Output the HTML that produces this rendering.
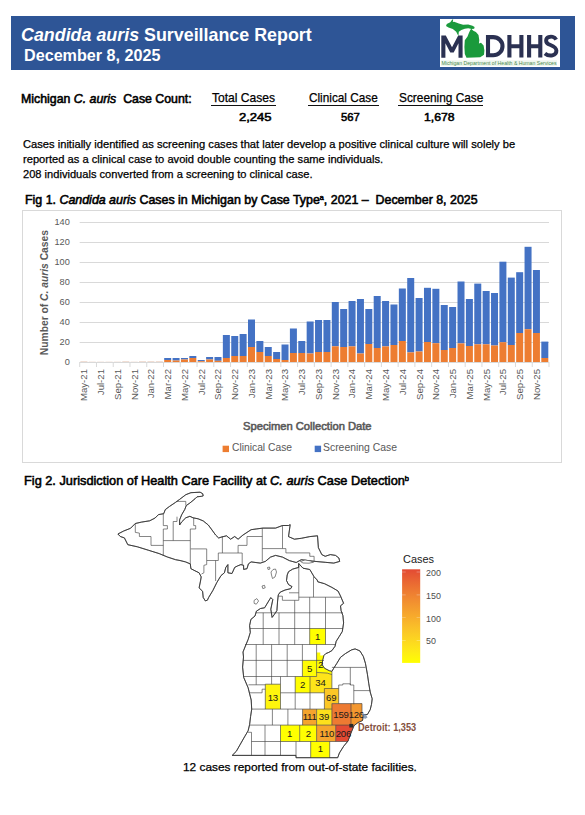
<!DOCTYPE html>
<html><head><meta charset="utf-8"><style>
html,body{margin:0;padding:0;background:#fff;width:585px;height:815px;overflow:hidden;position:relative;font-family:"Liberation Sans", sans-serif;}
</style></head><body>
<div style="position:absolute;left:11px;top:16px;width:564px;height:54px;background:#2e5596"></div>
<svg style="position:absolute;left:0;top:0" width="585" height="815">
<rect x="440" y="19" width="120" height="48" fill="#fff"/>
<g fill="none" stroke="#2b3152" stroke-width="4.1">
<path d="M488,37.1 H493.2 A9.3,9.1 0 0 1 493.2,55.3 H488 Z"/>
<path d="M509.4,35 V57.6 M521.4,35 V57.6 M509.4,46.3 H521.4"/>
<path d="M529.1,35 V57.6 M540.3,35 V57.6 M529.1,46.3 H540.3"/>
<path d="M556.2,39.6 C554.5,36.6 550.8,36.4 548.6,37.2 C545.4,38.4 545.2,42.6 548.6,44.2 C551.6,45.6 556.2,46.4 556.4,50.6 C556.6,55.6 549.4,57.2 544.9,53.4" stroke-width="3.9"/>
</g>
<polygon points="441.3,57.7 441.3,35.5 445.8,35.5 452,47.2 458.2,35.5 462.6,35.5 462.6,57.7 458.5,57.7 458.5,43.2 453.7,52.6 450.3,52.6 445.4,43.2 445.4,57.7" fill="#2b3152"/>
<path d="M446,26.1 L446.8,24 L450.3,22.3 L452.3,19.6 L453.2,19.5 L452.8,21.9 L454.1,21.8 L458.8,23.6 L463.1,24.8 L468.2,24.4 L472.5,25.7 L474.6,27 L474.2,28.7 L471.6,29.1 L468.2,28.3 L464.8,28.7 L461.4,30 L458.8,31.7 L458.4,36 L456.2,31.7 L452.8,29.1 L448.5,27.4 Z" fill="#1a9a3c"/>
<path d="M471.2,28.7 L473.3,30.8 L475.9,32.1 L478.5,35.1 L479.3,40.2 L478.9,43.6 L481,42.8 L483.6,45.4 L484.4,50.5 L484,54.8 L480.2,57.3 L466.5,57.7 L464.8,53.9 L464.4,47.1 L464.8,40.2 L467.4,36.8 L469.1,32.5 L470.3,30 Z" fill="#1a9a3c"/>
<rect x="441" y="60.3" width="116" height="5.8" fill="#eef6ee"/>
<text x="441.5" y="65.3" font-family="Liberation Sans" font-size="5.2" fill="#4a8a50" textLength="115" lengthAdjust="spacingAndGlyphs">Michigan Department of Health &amp; Human Services</text>
</svg>
<svg style="position:absolute;left:0;top:0" width="585" height="815">
<rect x="22.5" y="210.5" width="539" height="252" fill="none" stroke="#d9d9d9" stroke-width="1"/>
<line x1="79.7" y1="342.5" x2="549.0" y2="342.5" stroke="#d9d9d9" stroke-width="1"/>
<line x1="79.7" y1="322.5" x2="549.0" y2="322.5" stroke="#d9d9d9" stroke-width="1"/>
<line x1="79.7" y1="302.5" x2="549.0" y2="302.5" stroke="#d9d9d9" stroke-width="1"/>
<line x1="79.7" y1="282.5" x2="549.0" y2="282.5" stroke="#d9d9d9" stroke-width="1"/>
<line x1="79.7" y1="262.5" x2="549.0" y2="262.5" stroke="#d9d9d9" stroke-width="1"/>
<line x1="79.7" y1="242.5" x2="549.0" y2="242.5" stroke="#d9d9d9" stroke-width="1"/>
<line x1="79.7" y1="222.5" x2="549.0" y2="222.5" stroke="#d9d9d9" stroke-width="1"/>
<rect x="80.39" y="361.00" width="7.0" height="1" fill="#e8c8b8" opacity="0.6"/>
<rect x="88.77" y="361.00" width="7.0" height="1" fill="#e8c8b8" opacity="0.25"/>
<rect x="97.15" y="361.00" width="7.0" height="1" fill="#e8c8b8" opacity="0.25"/>
<rect x="105.53" y="361.00" width="7.0" height="1" fill="#e8c8b8" opacity="0.25"/>
<rect x="113.91" y="361.00" width="7.0" height="1" fill="#e8c8b8" opacity="0.25"/>
<rect x="122.29" y="361.00" width="7.0" height="1" fill="#e8c8b8" opacity="0.6"/>
<rect x="130.67" y="361.00" width="7.0" height="1" fill="#e8c8b8" opacity="0.25"/>
<rect x="139.05" y="361.00" width="7.0" height="1" fill="#e8c8b8" opacity="0.6"/>
<rect x="147.43" y="361.00" width="7.0" height="1" fill="#e8c8b8" opacity="0.6"/>
<rect x="155.81" y="361.00" width="7.0" height="1" fill="#e8c8b8" opacity="0.6"/>
<rect x="164.19" y="358.00" width="7.0" height="2.00" fill="#4472c4"/>
<rect x="164.19" y="360.00" width="7.0" height="2.00" fill="#ed7d31"/>
<rect x="172.57" y="358.00" width="7.0" height="2.50" fill="#4472c4"/>
<rect x="172.57" y="360.50" width="7.0" height="1.50" fill="#ed7d31"/>
<rect x="180.95" y="358.00" width="7.0" height="1.50" fill="#4472c4"/>
<rect x="180.95" y="359.50" width="7.0" height="2.50" fill="#ed7d31"/>
<rect x="189.33" y="356.00" width="7.0" height="2.00" fill="#4472c4"/>
<rect x="189.33" y="358.00" width="7.0" height="4.00" fill="#ed7d31"/>
<rect x="197.72" y="360.00" width="7.0" height="1.20" fill="#4472c4"/>
<rect x="197.72" y="361.20" width="7.0" height="0.80" fill="#ed7d31"/>
<rect x="206.10" y="357.00" width="7.0" height="2.50" fill="#4472c4"/>
<rect x="206.10" y="359.50" width="7.0" height="2.50" fill="#ed7d31"/>
<rect x="214.48" y="357.00" width="7.0" height="3.80" fill="#4472c4"/>
<rect x="214.48" y="360.80" width="7.0" height="1.20" fill="#ed7d31"/>
<rect x="222.86" y="335.00" width="7.0" height="23.00" fill="#4472c4"/>
<rect x="222.86" y="358.00" width="7.0" height="4.00" fill="#ed7d31"/>
<rect x="231.24" y="336.00" width="7.0" height="20.00" fill="#4472c4"/>
<rect x="231.24" y="356.00" width="7.0" height="6.00" fill="#ed7d31"/>
<rect x="239.62" y="334.00" width="7.0" height="22.00" fill="#4472c4"/>
<rect x="239.62" y="356.00" width="7.0" height="6.00" fill="#ed7d31"/>
<rect x="248.00" y="319.50" width="7.0" height="27.50" fill="#4472c4"/>
<rect x="248.00" y="347.00" width="7.0" height="15.00" fill="#ed7d31"/>
<rect x="256.38" y="341.00" width="7.0" height="11.00" fill="#4472c4"/>
<rect x="256.38" y="352.00" width="7.0" height="10.00" fill="#ed7d31"/>
<rect x="264.76" y="347.00" width="7.0" height="9.00" fill="#4472c4"/>
<rect x="264.76" y="356.00" width="7.0" height="6.00" fill="#ed7d31"/>
<rect x="273.14" y="352.00" width="7.0" height="7.00" fill="#4472c4"/>
<rect x="273.14" y="359.00" width="7.0" height="3.00" fill="#ed7d31"/>
<rect x="281.52" y="344.50" width="7.0" height="15.50" fill="#4472c4"/>
<rect x="281.52" y="360.00" width="7.0" height="2.00" fill="#ed7d31"/>
<rect x="289.90" y="328.50" width="7.0" height="24.50" fill="#4472c4"/>
<rect x="289.90" y="353.00" width="7.0" height="9.00" fill="#ed7d31"/>
<rect x="298.28" y="341.00" width="7.0" height="12.00" fill="#4472c4"/>
<rect x="298.28" y="353.00" width="7.0" height="9.00" fill="#ed7d31"/>
<rect x="306.66" y="321.50" width="7.0" height="32.00" fill="#4472c4"/>
<rect x="306.66" y="353.50" width="7.0" height="8.50" fill="#ed7d31"/>
<rect x="315.04" y="320.00" width="7.0" height="32.00" fill="#4472c4"/>
<rect x="315.04" y="352.00" width="7.0" height="10.00" fill="#ed7d31"/>
<rect x="323.42" y="320.00" width="7.0" height="32.00" fill="#4472c4"/>
<rect x="323.42" y="352.00" width="7.0" height="10.00" fill="#ed7d31"/>
<rect x="331.80" y="302.00" width="7.0" height="44.30" fill="#4472c4"/>
<rect x="331.80" y="346.30" width="7.0" height="15.70" fill="#ed7d31"/>
<rect x="340.18" y="309.00" width="7.0" height="38.00" fill="#4472c4"/>
<rect x="340.18" y="347.00" width="7.0" height="15.00" fill="#ed7d31"/>
<rect x="348.56" y="301.00" width="7.0" height="45.40" fill="#4472c4"/>
<rect x="348.56" y="346.40" width="7.0" height="15.60" fill="#ed7d31"/>
<rect x="356.94" y="299.00" width="7.0" height="54.50" fill="#4472c4"/>
<rect x="356.94" y="353.50" width="7.0" height="8.50" fill="#ed7d31"/>
<rect x="365.32" y="309.00" width="7.0" height="35.00" fill="#4472c4"/>
<rect x="365.32" y="344.00" width="7.0" height="18.00" fill="#ed7d31"/>
<rect x="373.70" y="296.00" width="7.0" height="52.00" fill="#4472c4"/>
<rect x="373.70" y="348.00" width="7.0" height="14.00" fill="#ed7d31"/>
<rect x="382.08" y="301.00" width="7.0" height="45.40" fill="#4472c4"/>
<rect x="382.08" y="346.40" width="7.0" height="15.60" fill="#ed7d31"/>
<rect x="390.46" y="304.50" width="7.0" height="40.50" fill="#4472c4"/>
<rect x="390.46" y="345.00" width="7.0" height="17.00" fill="#ed7d31"/>
<rect x="398.84" y="288.50" width="7.0" height="52.50" fill="#4472c4"/>
<rect x="398.84" y="341.00" width="7.0" height="21.00" fill="#ed7d31"/>
<rect x="407.22" y="278.00" width="7.0" height="74.40" fill="#4472c4"/>
<rect x="407.22" y="352.40" width="7.0" height="9.60" fill="#ed7d31"/>
<rect x="415.60" y="298.00" width="7.0" height="53.50" fill="#4472c4"/>
<rect x="415.60" y="351.50" width="7.0" height="10.50" fill="#ed7d31"/>
<rect x="423.98" y="287.80" width="7.0" height="54.20" fill="#4472c4"/>
<rect x="423.98" y="342.00" width="7.0" height="20.00" fill="#ed7d31"/>
<rect x="432.37" y="288.80" width="7.0" height="54.40" fill="#4472c4"/>
<rect x="432.37" y="343.20" width="7.0" height="18.80" fill="#ed7d31"/>
<rect x="440.75" y="305.00" width="7.0" height="45.00" fill="#4472c4"/>
<rect x="440.75" y="350.00" width="7.0" height="12.00" fill="#ed7d31"/>
<rect x="449.13" y="307.00" width="7.0" height="41.00" fill="#4472c4"/>
<rect x="449.13" y="348.00" width="7.0" height="14.00" fill="#ed7d31"/>
<rect x="457.51" y="281.50" width="7.0" height="61.90" fill="#4472c4"/>
<rect x="457.51" y="343.40" width="7.0" height="18.60" fill="#ed7d31"/>
<rect x="465.89" y="299.00" width="7.0" height="47.00" fill="#4472c4"/>
<rect x="465.89" y="346.00" width="7.0" height="16.00" fill="#ed7d31"/>
<rect x="474.27" y="283.60" width="7.0" height="60.70" fill="#4472c4"/>
<rect x="474.27" y="344.30" width="7.0" height="17.70" fill="#ed7d31"/>
<rect x="482.65" y="291.00" width="7.0" height="53.30" fill="#4472c4"/>
<rect x="482.65" y="344.30" width="7.0" height="17.70" fill="#ed7d31"/>
<rect x="491.03" y="293.00" width="7.0" height="52.50" fill="#4472c4"/>
<rect x="491.03" y="345.50" width="7.0" height="16.50" fill="#ed7d31"/>
<rect x="499.41" y="261.70" width="7.0" height="80.50" fill="#4472c4"/>
<rect x="499.41" y="342.20" width="7.0" height="19.80" fill="#ed7d31"/>
<rect x="507.79" y="277.60" width="7.0" height="67.40" fill="#4472c4"/>
<rect x="507.79" y="345.00" width="7.0" height="17.00" fill="#ed7d31"/>
<rect x="516.17" y="272.20" width="7.0" height="60.80" fill="#4472c4"/>
<rect x="516.17" y="333.00" width="7.0" height="29.00" fill="#ed7d31"/>
<rect x="524.55" y="246.80" width="7.0" height="82.40" fill="#4472c4"/>
<rect x="524.55" y="329.20" width="7.0" height="32.80" fill="#ed7d31"/>
<rect x="532.93" y="270.00" width="7.0" height="63.00" fill="#4472c4"/>
<rect x="532.93" y="333.00" width="7.0" height="29.00" fill="#ed7d31"/>
<rect x="541.31" y="341.60" width="7.0" height="16.40" fill="#4472c4"/>
<rect x="541.31" y="358.00" width="7.0" height="4.00" fill="#ed7d31"/>
<line x1="79.7" y1="362.5" x2="549.0" y2="362.5" stroke="#d9d9d9" stroke-width="1"/>
<line x1="79.70" y1="362.0" x2="79.70" y2="367.0" stroke="#d9d9d9" stroke-width="1"/>
<line x1="96.46" y1="362.0" x2="96.46" y2="367.0" stroke="#d9d9d9" stroke-width="1"/>
<line x1="113.22" y1="362.0" x2="113.22" y2="367.0" stroke="#d9d9d9" stroke-width="1"/>
<line x1="129.98" y1="362.0" x2="129.98" y2="367.0" stroke="#d9d9d9" stroke-width="1"/>
<line x1="146.74" y1="362.0" x2="146.74" y2="367.0" stroke="#d9d9d9" stroke-width="1"/>
<line x1="163.50" y1="362.0" x2="163.50" y2="367.0" stroke="#d9d9d9" stroke-width="1"/>
<line x1="180.26" y1="362.0" x2="180.26" y2="367.0" stroke="#d9d9d9" stroke-width="1"/>
<line x1="197.03" y1="362.0" x2="197.03" y2="367.0" stroke="#d9d9d9" stroke-width="1"/>
<line x1="213.79" y1="362.0" x2="213.79" y2="367.0" stroke="#d9d9d9" stroke-width="1"/>
<line x1="230.55" y1="362.0" x2="230.55" y2="367.0" stroke="#d9d9d9" stroke-width="1"/>
<line x1="247.31" y1="362.0" x2="247.31" y2="367.0" stroke="#d9d9d9" stroke-width="1"/>
<line x1="264.07" y1="362.0" x2="264.07" y2="367.0" stroke="#d9d9d9" stroke-width="1"/>
<line x1="280.83" y1="362.0" x2="280.83" y2="367.0" stroke="#d9d9d9" stroke-width="1"/>
<line x1="297.59" y1="362.0" x2="297.59" y2="367.0" stroke="#d9d9d9" stroke-width="1"/>
<line x1="314.35" y1="362.0" x2="314.35" y2="367.0" stroke="#d9d9d9" stroke-width="1"/>
<line x1="331.11" y1="362.0" x2="331.11" y2="367.0" stroke="#d9d9d9" stroke-width="1"/>
<line x1="347.87" y1="362.0" x2="347.87" y2="367.0" stroke="#d9d9d9" stroke-width="1"/>
<line x1="364.63" y1="362.0" x2="364.63" y2="367.0" stroke="#d9d9d9" stroke-width="1"/>
<line x1="381.39" y1="362.0" x2="381.39" y2="367.0" stroke="#d9d9d9" stroke-width="1"/>
<line x1="398.15" y1="362.0" x2="398.15" y2="367.0" stroke="#d9d9d9" stroke-width="1"/>
<line x1="414.91" y1="362.0" x2="414.91" y2="367.0" stroke="#d9d9d9" stroke-width="1"/>
<line x1="431.68" y1="362.0" x2="431.68" y2="367.0" stroke="#d9d9d9" stroke-width="1"/>
<line x1="448.44" y1="362.0" x2="448.44" y2="367.0" stroke="#d9d9d9" stroke-width="1"/>
<line x1="465.20" y1="362.0" x2="465.20" y2="367.0" stroke="#d9d9d9" stroke-width="1"/>
<line x1="481.96" y1="362.0" x2="481.96" y2="367.0" stroke="#d9d9d9" stroke-width="1"/>
<line x1="498.72" y1="362.0" x2="498.72" y2="367.0" stroke="#d9d9d9" stroke-width="1"/>
<line x1="515.48" y1="362.0" x2="515.48" y2="367.0" stroke="#d9d9d9" stroke-width="1"/>
<line x1="532.24" y1="362.0" x2="532.24" y2="367.0" stroke="#d9d9d9" stroke-width="1"/>
<line x1="549.00" y1="362.0" x2="549.00" y2="367.0" stroke="#d9d9d9" stroke-width="1"/>
<text x="69.8" y="365.3" text-anchor="end" font-family="Liberation Sans" font-size="9.2" fill="#595959">0</text>
<text x="69.8" y="345.3" text-anchor="end" font-family="Liberation Sans" font-size="9.2" fill="#595959">20</text>
<text x="69.8" y="325.3" text-anchor="end" font-family="Liberation Sans" font-size="9.2" fill="#595959">40</text>
<text x="69.8" y="305.3" text-anchor="end" font-family="Liberation Sans" font-size="9.2" fill="#595959">60</text>
<text x="69.8" y="285.3" text-anchor="end" font-family="Liberation Sans" font-size="9.2" fill="#595959">80</text>
<text x="69.8" y="265.3" text-anchor="end" font-family="Liberation Sans" font-size="9.2" fill="#595959">100</text>
<text x="69.8" y="245.3" text-anchor="end" font-family="Liberation Sans" font-size="9.2" fill="#595959">120</text>
<text x="69.8" y="225.3" text-anchor="end" font-family="Liberation Sans" font-size="9.2" fill="#595959">140</text>
<text transform="translate(87.29,369) rotate(-90)" text-anchor="end" font-family="Liberation Sans" font-size="9.6" fill="#595959">May-21</text>
<text transform="translate(104.05,369) rotate(-90)" text-anchor="end" font-family="Liberation Sans" font-size="9.6" fill="#595959">Jul-21</text>
<text transform="translate(120.81,369) rotate(-90)" text-anchor="end" font-family="Liberation Sans" font-size="9.6" fill="#595959">Sep-21</text>
<text transform="translate(137.57,369) rotate(-90)" text-anchor="end" font-family="Liberation Sans" font-size="9.6" fill="#595959">Nov-21</text>
<text transform="translate(154.33,369) rotate(-90)" text-anchor="end" font-family="Liberation Sans" font-size="9.6" fill="#595959">Jan-22</text>
<text transform="translate(171.09,369) rotate(-90)" text-anchor="end" font-family="Liberation Sans" font-size="9.6" fill="#595959">Mar-22</text>
<text transform="translate(187.85,369) rotate(-90)" text-anchor="end" font-family="Liberation Sans" font-size="9.6" fill="#595959">May-22</text>
<text transform="translate(204.62,369) rotate(-90)" text-anchor="end" font-family="Liberation Sans" font-size="9.6" fill="#595959">Jul-22</text>
<text transform="translate(221.38,369) rotate(-90)" text-anchor="end" font-family="Liberation Sans" font-size="9.6" fill="#595959">Sep-22</text>
<text transform="translate(238.14,369) rotate(-90)" text-anchor="end" font-family="Liberation Sans" font-size="9.6" fill="#595959">Nov-22</text>
<text transform="translate(254.90,369) rotate(-90)" text-anchor="end" font-family="Liberation Sans" font-size="9.6" fill="#595959">Jan-23</text>
<text transform="translate(271.66,369) rotate(-90)" text-anchor="end" font-family="Liberation Sans" font-size="9.6" fill="#595959">Mar-23</text>
<text transform="translate(288.42,369) rotate(-90)" text-anchor="end" font-family="Liberation Sans" font-size="9.6" fill="#595959">May-23</text>
<text transform="translate(305.18,369) rotate(-90)" text-anchor="end" font-family="Liberation Sans" font-size="9.6" fill="#595959">Jul-23</text>
<text transform="translate(321.94,369) rotate(-90)" text-anchor="end" font-family="Liberation Sans" font-size="9.6" fill="#595959">Sep-23</text>
<text transform="translate(338.70,369) rotate(-90)" text-anchor="end" font-family="Liberation Sans" font-size="9.6" fill="#595959">Nov-23</text>
<text transform="translate(355.46,369) rotate(-90)" text-anchor="end" font-family="Liberation Sans" font-size="9.6" fill="#595959">Jan-24</text>
<text transform="translate(372.22,369) rotate(-90)" text-anchor="end" font-family="Liberation Sans" font-size="9.6" fill="#595959">Mar-24</text>
<text transform="translate(388.98,369) rotate(-90)" text-anchor="end" font-family="Liberation Sans" font-size="9.6" fill="#595959">May-24</text>
<text transform="translate(405.74,369) rotate(-90)" text-anchor="end" font-family="Liberation Sans" font-size="9.6" fill="#595959">Jul-24</text>
<text transform="translate(422.50,369) rotate(-90)" text-anchor="end" font-family="Liberation Sans" font-size="9.6" fill="#595959">Sep-24</text>
<text transform="translate(439.27,369) rotate(-90)" text-anchor="end" font-family="Liberation Sans" font-size="9.6" fill="#595959">Nov-24</text>
<text transform="translate(456.03,369) rotate(-90)" text-anchor="end" font-family="Liberation Sans" font-size="9.6" fill="#595959">Jan-25</text>
<text transform="translate(472.79,369) rotate(-90)" text-anchor="end" font-family="Liberation Sans" font-size="9.6" fill="#595959">Mar-25</text>
<text transform="translate(489.55,369) rotate(-90)" text-anchor="end" font-family="Liberation Sans" font-size="9.6" fill="#595959">May-25</text>
<text transform="translate(506.31,369) rotate(-90)" text-anchor="end" font-family="Liberation Sans" font-size="9.6" fill="#595959">Jul-25</text>
<text transform="translate(523.07,369) rotate(-90)" text-anchor="end" font-family="Liberation Sans" font-size="9.6" fill="#595959">Sep-25</text>
<text transform="translate(539.83,369) rotate(-90)" text-anchor="end" font-family="Liberation Sans" font-size="9.6" fill="#595959">Nov-25</text>
<text transform="translate(47.6,292.6) rotate(-90) scale(0.94,1)" text-anchor="middle" font-family="Liberation Sans" font-weight="bold" font-size="10.95" fill="#595959">Number of <tspan font-style="italic">C. auris</tspan> Cases</text>
<rect x="222.6" y="445.7" width="6.4" height="6.4" fill="#ed7d31"/>
<rect x="314.7" y="445.7" width="6.4" height="6.4" fill="#4472c4"/>
</svg>
<svg style="position:absolute;left:0;top:0" width="585" height="815">
<defs><linearGradient id="cb" x1="0" y1="1" x2="0" y2="0">
<stop offset="0.00" stop-color="#ffff00"/>
<stop offset="0.10" stop-color="#feee13"/>
<stop offset="0.20" stop-color="#fddd1d"/>
<stop offset="0.30" stop-color="#fbcd24"/>
<stop offset="0.40" stop-color="#f9bc29"/>
<stop offset="0.50" stop-color="#f7aa2c"/>
<stop offset="0.60" stop-color="#f3992f"/>
<stop offset="0.70" stop-color="#f08731"/>
<stop offset="0.80" stop-color="#ec7432"/>
<stop offset="0.90" stop-color="#e86033"/>
<stop offset="1.00" stop-color="#e34a33"/>
</linearGradient></defs>
<polygon points="117.9,534.0 123.7,531.0 130.5,528.3 135.3,523.5 141.5,522.1 149.7,520.8 155.1,518.0 158.5,514.6 163.7,513.7 165.3,509.6 169.4,506.5 175.5,502.4 179.6,499.4 185.8,494.7 190.9,492.7 200.1,492.2 202.7,493.7 203.2,495.8 201.7,496.3 197.0,496.8 195.0,498.8 189.9,503.0 186.3,505.5 184.7,509.6 181.7,514.7 179.6,519.9 179.6,525.0 181.7,521.9 185.8,517.8 189.9,516.3 193.0,517.8 198.1,518.8 203.2,520.9 208.3,525.0 212.0,530.0 215.6,535.0 218.7,538.0 221.0,537.2 226.5,535.8 230.6,539.2 234.7,536.5 238.1,539.2 242.9,535.1 251.1,529.7 256.8,528.9 262.8,528.1 275.6,528.1 282.5,525.5 288.5,525.5 290.2,524.7 288.5,536.6 294.4,539.2 301.3,538.3 309.8,536.6 317.5,535.8 318.4,547.7 321.8,554.6 325.2,556.3 330.3,554.6 335.5,555.4 338.9,558.0 339.7,561.4 333.8,563.1 325.2,562.3 315.0,561.4 308.1,560.6 301.3,559.7 296.2,562.5 289.3,560.6 282.5,557.1 275.6,555.4 270.5,557.1 265.4,561.4 260.3,563.1 251.1,561.9 248.4,563.9 247.0,568.7 243.6,569.4 243.6,565.3 240.9,564.6 237.4,566.0 234.7,567.4 232.0,573.5 227.9,572.8 227.9,564.6 225.8,567.4 224.4,572.8 221.0,575.6 216.9,582.4 212.8,590.6 208.7,597.4 207.4,600.2 205.3,600.9 203.2,597.4 202.6,591.3 199.1,587.9 200.5,581.0 201.2,576.9 199.1,572.8 195.0,570.8 190.9,568.7 190.3,563.9 185.5,561.9 180.0,560.5 175.6,559.7 167.4,557.0 159.2,553.6 148.3,550.2 137.4,546.8 127.8,544.7 124.4,537.9 120.3,536.5" fill="#fff" stroke="#444" stroke-width="0.65" stroke-linejoin="round"/>
<polygon points="298.7,563.5 303.0,568.2 309.8,569.5 314.1,576.8 317.2,580.0 317.8,581.8 324.5,583.7 331.9,587.4 338.0,591.0 340.5,596.0 343.6,603.3 340.5,605.8 341.1,610.7 342.9,615.6 343.6,622.9 342.3,631.5 339.3,636.4 336.2,641.3 335.0,646.3 331.9,650.6 328.8,652.4 325.8,653.6 323.9,655.5 322.7,659.8 322.1,664.7 324.5,668.3 329.4,670.8 331.9,671.4 333.7,668.3 336.8,663.4 340.5,657.3 345.4,653.6 351.5,649.9 355.1,648.9 359.9,650.9 363.3,656.4 365.4,663.2 367.4,674.2 368.8,683.8 370.2,692.0 372.2,698.8 371.5,704.3 370.2,709.7 367.4,714.5 363.5,714.5 362.5,720.5 358.0,722.5 354.0,725.6 350.5,734.2 348.0,741.0 343.7,746.2 339.4,753.0 337.7,757.7 296.0,757.7 296.0,755.4 232.2,755.4 236.3,751.3 240.4,744.1 244.5,736.9 248.1,730.8 249.6,724.6 250.6,716.4 251.7,709.2 251.2,700.0 248.1,687.7 243.7,677.4 242.6,667.1 243.5,657.0 243.0,652.0 245.0,647.0 248.2,639.3 250.3,632.4 249.6,625.6 250.9,619.4 255.0,616.0 256.4,611.2 260.5,608.5 264.6,607.8 268.7,601.0 270.8,597.6 272.8,599.6 270.8,609.2 272.1,617.4 274.2,614.7 276.9,610.6 277.6,601.0 278.3,594.8 280.3,592.1 285.1,590.0 290.6,588.7 292.0,586.6 288.5,584.6 286.5,580.5 287.2,575.0 288.5,571.7 292.7,569.1 298.7,567.4" fill="#fff" stroke="#444" stroke-width="0.65" stroke-linejoin="round"/>
<polygon points="309.7,628.5 325.5,628.5 325.5,644.5 309.7,644.5" fill="#ffff00"/>
<polygon points="302.4,660.4 316.6,660.4 316.6,676.5 302.4,676.5" fill="#fffc05"/>
<polygon points="316.6,652.4 320.3,652.4 320.3,655.5 323.9,655.5 322.7,659.8 322.1,664.7 324.5,668.3 329.4,670.8 331.9,671.4 331.9,674.6 327.3,673.1 316.6,672.4" fill="#fffe01"/>
<polygon points="295.2,676.5 310.0,676.5 310.0,692.8 295.2,692.8" fill="#fffe01"/>
<polygon points="310.0,676.5 316.6,676.5 316.6,672.4 327.3,673.1 331.9,674.6 331.9,692.8 310.0,692.8" fill="#fee41a"/>
<polygon points="265.3,684.2 280.5,684.2 280.5,709.1 265.3,709.1" fill="#fff50d"/>
<polygon points="324.4,688.5 338.7,688.5 338.7,703.6 331.9,703.6 331.9,709.1 324.4,709.1" fill="#fbc726"/>
<polygon points="302.6,709.1 316.6,709.1 316.6,725.1 302.6,725.1" fill="#f5a42d"/>
<polygon points="316.6,709.1 331.9,709.1 331.9,725.1 316.6,725.1" fill="#fde01c"/>
<polygon points="331.9,703.6 351.0,703.6 351.0,725.1 331.9,725.1" fill="#ed7a32"/>
<polygon points="351.0,703.6 362.0,703.6 362.0,714.5 362.5,720.5 358.0,722.5 354.0,725.1 351.0,725.1" fill="#f3972f"/>
<polygon points="280.5,725.1 299.7,725.1 299.7,741.5 280.5,741.5" fill="#ffff00"/>
<polygon points="299.7,725.1 316.6,725.1 316.6,741.5 299.7,741.5" fill="#fffe01"/>
<polygon points="316.6,725.1 335.7,725.1 335.7,741.5 316.6,741.5" fill="#f6a52d"/>
<polygon points="335.7,725.1 354.0,725.1 350.5,734.2 348.0,741.5 335.7,741.5" fill="#e34a33"/>
<polygon points="310.7,741.5 329.7,741.5 329.7,757.7 310.7,757.7" fill="#ffff00"/>
<polyline points="176.5,501.4 185.8,501.4 185.8,505.5" fill="none" stroke="#444" stroke-width="0.65" stroke-linejoin="round"/>
<polyline points="135.3,523.5 135.3,532.4 139.4,533.1 139.4,536.5 151.0,536.5 151.0,545.4 163.3,545.4" fill="none" stroke="#444" stroke-width="0.65" stroke-linejoin="round"/>
<polyline points="163.3,513.9 163.3,525.6 167.4,525.6 167.4,529.0 163.3,529.0 163.3,555.6" fill="none" stroke="#444" stroke-width="0.65" stroke-linejoin="round"/>
<polyline points="163.3,540.6 190.3,540.6" fill="none" stroke="#444" stroke-width="0.65" stroke-linejoin="round"/>
<polyline points="173.2,540.6 173.2,521.5 177.0,521.5 177.0,516.7" fill="none" stroke="#444" stroke-width="0.65" stroke-linejoin="round"/>
<polyline points="193.7,518.0 193.7,525.6 195.7,525.6 195.7,529.0 190.3,529.0 190.3,563.9" fill="none" stroke="#444" stroke-width="0.65" stroke-linejoin="round"/>
<polyline points="190.7,548.9 206.7,548.9 206.7,560.5 218.3,560.5" fill="none" stroke="#444" stroke-width="0.65" stroke-linejoin="round"/>
<polyline points="206.7,560.5 206.7,564.6 203.9,565.3 203.9,572.8 201.5,574.0" fill="none" stroke="#444" stroke-width="0.65" stroke-linejoin="round"/>
<polyline points="215.6,560.5 215.6,581.0" fill="none" stroke="#444" stroke-width="0.65" stroke-linejoin="round"/>
<polyline points="218.3,553.0 218.3,560.5" fill="none" stroke="#444" stroke-width="0.65" stroke-linejoin="round"/>
<polyline points="218.3,553.0 242.2,553.0 242.2,564.6" fill="none" stroke="#444" stroke-width="0.65" stroke-linejoin="round"/>
<polyline points="222.4,536.5 222.4,553.0" fill="none" stroke="#444" stroke-width="0.65" stroke-linejoin="round"/>
<polyline points="238.1,553.0 238.1,545.4 247.0,545.4 247.0,536.5 262.3,536.5" fill="none" stroke="#444" stroke-width="0.65" stroke-linejoin="round"/>
<polyline points="262.3,528.1 262.3,561.4" fill="none" stroke="#444" stroke-width="0.65" stroke-linejoin="round"/>
<polyline points="262.3,548.6 282.5,548.6 282.5,525.5" fill="none" stroke="#444" stroke-width="0.65" stroke-linejoin="round"/>
<polyline points="282.5,548.6 285.9,548.6 285.9,552.9 309.8,552.9 309.8,556.3 314.1,556.3 314.1,561.0" fill="none" stroke="#444" stroke-width="0.65" stroke-linejoin="round"/>
<polyline points="298.8,563.5 298.8,600.3 282.4,600.3 282.4,596.2 278.3,596.2" fill="none" stroke="#444" stroke-width="0.65" stroke-linejoin="round"/>
<polyline points="289.0,592.8 298.8,592.8" fill="none" stroke="#444" stroke-width="0.65" stroke-linejoin="round"/>
<polyline points="298.8,597.2 340.5,597.2" fill="none" stroke="#444" stroke-width="0.65" stroke-linejoin="round"/>
<polyline points="313.5,576.8 313.5,597.2" fill="none" stroke="#444" stroke-width="0.65" stroke-linejoin="round"/>
<polyline points="294.7,600.3 294.7,644.5" fill="none" stroke="#444" stroke-width="0.65" stroke-linejoin="round"/>
<polyline points="309.7,597.2 309.7,644.5" fill="none" stroke="#444" stroke-width="0.65" stroke-linejoin="round"/>
<polyline points="325.5,597.2 325.5,644.5" fill="none" stroke="#444" stroke-width="0.65" stroke-linejoin="round"/>
<polyline points="256.0,612.8 342.9,612.8" fill="none" stroke="#444" stroke-width="0.65" stroke-linejoin="round"/>
<polyline points="263.2,612.8 263.2,644.5" fill="none" stroke="#444" stroke-width="0.65" stroke-linejoin="round"/>
<polyline points="279.0,612.8 279.0,644.5" fill="none" stroke="#444" stroke-width="0.65" stroke-linejoin="round"/>
<polyline points="250.0,628.5 343.0,628.5" fill="none" stroke="#444" stroke-width="0.65" stroke-linejoin="round"/>
<polyline points="245.0,644.5 336.0,644.5" fill="none" stroke="#444" stroke-width="0.65" stroke-linejoin="round"/>
<polyline points="256.2,644.5 256.2,684.8" fill="none" stroke="#444" stroke-width="0.65" stroke-linejoin="round"/>
<polyline points="271.6,644.5 271.6,684.2" fill="none" stroke="#444" stroke-width="0.65" stroke-linejoin="round"/>
<polyline points="287.2,644.5 287.2,676.5" fill="none" stroke="#444" stroke-width="0.65" stroke-linejoin="round"/>
<polyline points="302.4,644.5 302.4,676.5" fill="none" stroke="#444" stroke-width="0.65" stroke-linejoin="round"/>
<polyline points="316.6,644.5 316.6,676.5" fill="none" stroke="#444" stroke-width="0.65" stroke-linejoin="round"/>
<polyline points="243.2,660.4 324.0,660.4" fill="none" stroke="#444" stroke-width="0.65" stroke-linejoin="round"/>
<polyline points="243.6,676.5 316.6,676.5" fill="none" stroke="#444" stroke-width="0.65" stroke-linejoin="round"/>
<polyline points="316.6,672.4 327.3,673.1 331.9,674.6" fill="none" stroke="#444" stroke-width="0.65" stroke-linejoin="round"/>
<polyline points="248.5,684.8 265.3,684.8" fill="none" stroke="#444" stroke-width="0.65" stroke-linejoin="round"/>
<polyline points="265.3,684.2 280.5,684.2 280.5,709.1" fill="none" stroke="#444" stroke-width="0.65" stroke-linejoin="round"/>
<polyline points="265.3,684.2 265.3,709.1" fill="none" stroke="#444" stroke-width="0.65" stroke-linejoin="round"/>
<polyline points="280.5,676.5 280.5,684.2" fill="none" stroke="#444" stroke-width="0.65" stroke-linejoin="round"/>
<polyline points="295.2,676.5 295.2,709.1" fill="none" stroke="#444" stroke-width="0.65" stroke-linejoin="round"/>
<polyline points="249.6,692.8 262.1,692.8 262.1,689.2 265.3,689.2" fill="none" stroke="#444" stroke-width="0.65" stroke-linejoin="round"/>
<polyline points="280.5,692.8 324.4,692.8" fill="none" stroke="#444" stroke-width="0.65" stroke-linejoin="round"/>
<polyline points="310.0,676.5 310.0,709.1" fill="none" stroke="#444" stroke-width="0.65" stroke-linejoin="round"/>
<polyline points="324.4,688.5 338.7,688.5 338.7,703.6" fill="none" stroke="#444" stroke-width="0.65" stroke-linejoin="round"/>
<polyline points="324.4,688.5 324.4,709.1" fill="none" stroke="#444" stroke-width="0.65" stroke-linejoin="round"/>
<polyline points="331.9,667.4 365.4,667.4" fill="none" stroke="#444" stroke-width="0.65" stroke-linejoin="round"/>
<polyline points="350.3,667.4 350.3,685.0" fill="none" stroke="#444" stroke-width="0.65" stroke-linejoin="round"/>
<polyline points="338.7,688.5 338.7,685.0 342.8,685.0 342.8,683.8 350.3,683.8 350.3,685.0 353.8,685.0 353.8,704.3" fill="none" stroke="#444" stroke-width="0.65" stroke-linejoin="round"/>
<polyline points="331.9,671.4 331.9,688.5" fill="none" stroke="#444" stroke-width="0.65" stroke-linejoin="round"/>
<polyline points="353.8,690.6 370.2,690.6" fill="none" stroke="#444" stroke-width="0.65" stroke-linejoin="round"/>
<polyline points="331.9,703.6 362.0,703.6 362.0,714.5" fill="none" stroke="#444" stroke-width="0.65" stroke-linejoin="round"/>
<polyline points="251.7,709.1 331.9,709.1" fill="none" stroke="#444" stroke-width="0.65" stroke-linejoin="round"/>
<polyline points="272.4,709.1 272.4,725.1" fill="none" stroke="#444" stroke-width="0.65" stroke-linejoin="round"/>
<polyline points="287.9,709.1 287.9,725.1" fill="none" stroke="#444" stroke-width="0.65" stroke-linejoin="round"/>
<polyline points="302.6,709.1 302.6,725.1" fill="none" stroke="#444" stroke-width="0.65" stroke-linejoin="round"/>
<polyline points="316.6,709.1 316.6,741.5" fill="none" stroke="#444" stroke-width="0.65" stroke-linejoin="round"/>
<polyline points="331.9,703.6 331.9,725.1" fill="none" stroke="#444" stroke-width="0.65" stroke-linejoin="round"/>
<polyline points="351.0,703.6 351.0,725.6" fill="none" stroke="#444" stroke-width="0.65" stroke-linejoin="round"/>
<polyline points="249.6,725.1 354.0,725.1" fill="none" stroke="#444" stroke-width="0.65" stroke-linejoin="round"/>
<polyline points="265.0,725.1 265.0,755.4" fill="none" stroke="#444" stroke-width="0.65" stroke-linejoin="round"/>
<polyline points="280.5,725.1 280.5,755.4" fill="none" stroke="#444" stroke-width="0.65" stroke-linejoin="round"/>
<polyline points="299.7,725.1 299.7,741.5" fill="none" stroke="#444" stroke-width="0.65" stroke-linejoin="round"/>
<polyline points="335.7,725.1 335.7,741.5" fill="none" stroke="#444" stroke-width="0.65" stroke-linejoin="round"/>
<polyline points="251.5,741.5 348.0,741.5" fill="none" stroke="#444" stroke-width="0.65" stroke-linejoin="round"/>
<polyline points="248.1,732.3 251.5,732.3 251.5,755.4" fill="none" stroke="#444" stroke-width="0.65" stroke-linejoin="round"/>
<polyline points="296.0,741.5 296.0,755.4" fill="none" stroke="#444" stroke-width="0.65" stroke-linejoin="round"/>
<polyline points="310.7,741.5 310.7,757.7" fill="none" stroke="#444" stroke-width="0.65" stroke-linejoin="round"/>
<polyline points="329.7,741.5 329.7,757.7" fill="none" stroke="#444" stroke-width="0.65" stroke-linejoin="round"/>
<polygon points="117.9,534.0 123.7,531.0 130.5,528.3 135.3,523.5 141.5,522.1 149.7,520.8 155.1,518.0 158.5,514.6 163.7,513.7 165.3,509.6 169.4,506.5 175.5,502.4 179.6,499.4 185.8,494.7 190.9,492.7 200.1,492.2 202.7,493.7 203.2,495.8 201.7,496.3 197.0,496.8 195.0,498.8 189.9,503.0 186.3,505.5 184.7,509.6 181.7,514.7 179.6,519.9 179.6,525.0 181.7,521.9 185.8,517.8 189.9,516.3 193.0,517.8 198.1,518.8 203.2,520.9 208.3,525.0 212.0,530.0 215.6,535.0 218.7,538.0 221.0,537.2 226.5,535.8 230.6,539.2 234.7,536.5 238.1,539.2 242.9,535.1 251.1,529.7 256.8,528.9 262.8,528.1 275.6,528.1 282.5,525.5 288.5,525.5 290.2,524.7 288.5,536.6 294.4,539.2 301.3,538.3 309.8,536.6 317.5,535.8 318.4,547.7 321.8,554.6 325.2,556.3 330.3,554.6 335.5,555.4 338.9,558.0 339.7,561.4 333.8,563.1 325.2,562.3 315.0,561.4 308.1,560.6 301.3,559.7 296.2,562.5 289.3,560.6 282.5,557.1 275.6,555.4 270.5,557.1 265.4,561.4 260.3,563.1 251.1,561.9 248.4,563.9 247.0,568.7 243.6,569.4 243.6,565.3 240.9,564.6 237.4,566.0 234.7,567.4 232.0,573.5 227.9,572.8 227.9,564.6 225.8,567.4 224.4,572.8 221.0,575.6 216.9,582.4 212.8,590.6 208.7,597.4 207.4,600.2 205.3,600.9 203.2,597.4 202.6,591.3 199.1,587.9 200.5,581.0 201.2,576.9 199.1,572.8 195.0,570.8 190.9,568.7 190.3,563.9 185.5,561.9 180.0,560.5 175.6,559.7 167.4,557.0 159.2,553.6 148.3,550.2 137.4,546.8 127.8,544.7 124.4,537.9 120.3,536.5" fill="none" stroke="#333" stroke-width="0.85" stroke-linejoin="round"/>
<polygon points="298.7,563.5 303.0,568.2 309.8,569.5 314.1,576.8 317.2,580.0 317.8,581.8 324.5,583.7 331.9,587.4 338.0,591.0 340.5,596.0 343.6,603.3 340.5,605.8 341.1,610.7 342.9,615.6 343.6,622.9 342.3,631.5 339.3,636.4 336.2,641.3 335.0,646.3 331.9,650.6 328.8,652.4 325.8,653.6 323.9,655.5 322.7,659.8 322.1,664.7 324.5,668.3 329.4,670.8 331.9,671.4 333.7,668.3 336.8,663.4 340.5,657.3 345.4,653.6 351.5,649.9 355.1,648.9 359.9,650.9 363.3,656.4 365.4,663.2 367.4,674.2 368.8,683.8 370.2,692.0 372.2,698.8 371.5,704.3 370.2,709.7 367.4,714.5 363.5,714.5 362.5,720.5 358.0,722.5 354.0,725.6 350.5,734.2 348.0,741.0 343.7,746.2 339.4,753.0 337.7,757.7 296.0,757.7 296.0,755.4 232.2,755.4 236.3,751.3 240.4,744.1 244.5,736.9 248.1,730.8 249.6,724.6 250.6,716.4 251.7,709.2 251.2,700.0 248.1,687.7 243.7,677.4 242.6,667.1 243.5,657.0 243.0,652.0 245.0,647.0 248.2,639.3 250.3,632.4 249.6,625.6 250.9,619.4 255.0,616.0 256.4,611.2 260.5,608.5 264.6,607.8 268.7,601.0 270.8,597.6 272.8,599.6 270.8,609.2 272.1,617.4 274.2,614.7 276.9,610.6 277.6,601.0 278.3,594.8 280.3,592.1 285.1,590.0 290.6,588.7 292.0,586.6 288.5,584.6 286.5,580.5 287.2,575.0 288.5,571.7 292.7,569.1 298.7,567.4" fill="none" stroke="#333" stroke-width="0.85" stroke-linejoin="round"/>
<polygon points="271.0,572.0 273.0,569.5 275.5,569.0 276.5,572.0 275.0,577.0 272.5,578.5 271.5,575.0" fill="#fff" stroke="#444" stroke-width="0.65" stroke-linejoin="round"/>
<polygon points="267.5,567.5 269.5,567.0 270.0,569.0 268.0,569.5" fill="#fff" stroke="#444" stroke-width="0.65" stroke-linejoin="round"/>
<polygon points="262.0,586.0 264.5,585.3 265.2,587.8 262.8,588.6" fill="#fff" stroke="#444" stroke-width="0.65" stroke-linejoin="round"/>
<polygon points="254.0,600.5 256.8,598.6 258.6,601.0 256.3,604.2 254.2,603.4" fill="#fff" stroke="#444" stroke-width="0.65" stroke-linejoin="round"/>
<polygon points="300.5,561.5 305.0,560.0 310.0,560.8 313.5,562.2 309.0,563.2 303.0,563.0" fill="#fff" stroke="#444" stroke-width="0.65" stroke-linejoin="round"/>
<text x="317.6" y="639.6" text-anchor="middle" font-family="Liberation Sans" font-size="9.6" letter-spacing="-0.25" fill="#1a1a1a">1</text>
<text x="309.5" y="671.6" text-anchor="middle" font-family="Liberation Sans" font-size="9.6" letter-spacing="-0.25" fill="#1a1a1a">5</text>
<text x="320.5" y="668.1" text-anchor="middle" font-family="Liberation Sans" font-size="9.6" letter-spacing="-0.25" fill="#1a1a1a">2</text>
<text x="302.6" y="688.1" text-anchor="middle" font-family="Liberation Sans" font-size="9.6" letter-spacing="-0.25" fill="#1a1a1a">2</text>
<text x="320.4" y="686.1" text-anchor="middle" font-family="Liberation Sans" font-size="9.6" letter-spacing="-0.25" fill="#1a1a1a">34</text>
<text x="272.8" y="700.6" text-anchor="middle" font-family="Liberation Sans" font-size="9.6" letter-spacing="-0.25" fill="#1a1a1a">13</text>
<text x="331.2" y="701.3" text-anchor="middle" font-family="Liberation Sans" font-size="9.6" letter-spacing="-0.25" fill="#1a1a1a">69</text>
<text x="309.6" y="719.9" text-anchor="middle" font-family="Liberation Sans" font-size="9.6" letter-spacing="-0.25" fill="#1a1a1a">111</text>
<text x="323.9" y="719.9" text-anchor="middle" font-family="Liberation Sans" font-size="9.6" letter-spacing="-0.25" fill="#1a1a1a">39</text>
<text x="341.0" y="718.1" text-anchor="middle" font-family="Liberation Sans" font-size="9.6" letter-spacing="-0.25" fill="#1a1a1a">159</text>
<text x="356.3" y="718.1" text-anchor="middle" font-family="Liberation Sans" font-size="9.6" letter-spacing="-0.25" fill="#1a1a1a">126</text>
<text x="289.5" y="736.6" text-anchor="middle" font-family="Liberation Sans" font-size="9.6" letter-spacing="-0.25" fill="#1a1a1a">1</text>
<text x="308.2" y="736.6" text-anchor="middle" font-family="Liberation Sans" font-size="9.6" letter-spacing="-0.25" fill="#1a1a1a">2</text>
<text x="326.8" y="736.6" text-anchor="middle" font-family="Liberation Sans" font-size="9.6" letter-spacing="-0.25" fill="#1a1a1a">110</text>
<text x="343.4" y="736.9" text-anchor="middle" font-family="Liberation Sans" font-size="9.6" letter-spacing="-0.25" fill="#1a1a1a">206</text>
<text x="320.2" y="752.3" text-anchor="middle" font-family="Liberation Sans" font-size="9.6" letter-spacing="-0.25" fill="#1a1a1a">1</text>
<rect x="349.3" y="723.9" width="3.8" height="3.6" fill="#2a2a2a"/>
<path d="M363,713.5 l3,1 l1.5,3 l-2.5,1.5 l-2,-2 z" fill="#7088a8" opacity="0.8"/>
<rect x="402.1" y="569.3" width="18.1" height="93.6" fill="url(#cb)"/>
<line x1="402.1" y1="640.5" x2="405.7" y2="640.5" stroke="#fff" stroke-width="0.5" opacity="0.6"/>
<line x1="416.6" y1="640.5" x2="420.2" y2="640.5" stroke="#fff" stroke-width="0.5" opacity="0.6"/>
<text transform="translate(426.1,644.3) scale(0.9,1)" font-family="Liberation Sans" font-size="9.9" fill="#4d4d4d">50</text>
<line x1="402.1" y1="617.7" x2="405.7" y2="617.7" stroke="#fff" stroke-width="0.5" opacity="0.6"/>
<line x1="416.6" y1="617.7" x2="420.2" y2="617.7" stroke="#fff" stroke-width="0.5" opacity="0.6"/>
<text transform="translate(426.1,621.5) scale(0.9,1)" font-family="Liberation Sans" font-size="9.9" fill="#4d4d4d">100</text>
<line x1="402.1" y1="594.9" x2="405.7" y2="594.9" stroke="#fff" stroke-width="0.5" opacity="0.6"/>
<line x1="416.6" y1="594.9" x2="420.2" y2="594.9" stroke="#fff" stroke-width="0.5" opacity="0.6"/>
<text transform="translate(426.1,598.7) scale(0.9,1)" font-family="Liberation Sans" font-size="9.9" fill="#4d4d4d">150</text>
<line x1="402.1" y1="572.0" x2="405.7" y2="572.0" stroke="#fff" stroke-width="0.5" opacity="0.6"/>
<line x1="416.6" y1="572.0" x2="420.2" y2="572.0" stroke="#fff" stroke-width="0.5" opacity="0.6"/>
<text transform="translate(426.1,575.8) scale(0.9,1)" font-family="Liberation Sans" font-size="9.9" fill="#4d4d4d">200</text>
</svg>
<div style="position:absolute;left:21.00px;top:26.79px;font-size:17.733px;line-height:1;font-weight:bold;color:#fff;white-space:nowrap;transform-origin:0 0;transform:scaleX(1.0076);"><i>Candida auris</i> Surveillance Report</div>
<div style="position:absolute;left:23.50px;top:47.93px;font-size:16.860px;line-height:1;font-weight:bold;color:#fff;white-space:nowrap;transform-origin:0 0;transform:scaleX(0.9581);">December 8, 2025</div>
<div style="position:absolute;left:20.50px;top:93.51px;font-size:11.919px;line-height:1;font-weight:normal;color:#000;white-space:nowrap;transform-origin:0 0;transform:scaleX(1.0357);-webkit-text-stroke:0.55px #000;">Michigan <i>C. auris</i>&nbsp; Case Count:</div>
<div style="position:absolute;left:212.40px;top:92.44px;font-size:12.355px;line-height:1;font-weight:normal;color:#000;white-space:nowrap;transform-origin:0 0;transform:scaleX(0.9783);-webkit-text-stroke:0.25px #000;">Total Cases</div>
<div style="position:absolute;left:309.40px;top:92.44px;font-size:12.355px;line-height:1;font-weight:normal;color:#000;white-space:nowrap;transform-origin:0 0;transform:scaleX(0.9535);-webkit-text-stroke:0.25px #000;">Clinical Case</div>
<div style="position:absolute;left:398.60px;top:92.44px;font-size:12.355px;line-height:1;font-weight:normal;color:#000;white-space:nowrap;transform-origin:0 0;transform:scaleX(0.9608);-webkit-text-stroke:0.25px #000;">Screening Case</div>
<div style="position:absolute;left:238.60px;top:110.86px;font-size:11.628px;line-height:1;font-weight:normal;color:#000;white-space:nowrap;transform-origin:0 0;transform:scaleX(1.1217);-webkit-text-stroke:0.55px #000;">2,245</div>
<div style="position:absolute;left:340.50px;top:110.86px;font-size:11.628px;line-height:1;font-weight:normal;color:#000;white-space:nowrap;transform-origin:0 0;transform:scaleX(0.9703);-webkit-text-stroke:0.55px #000;">567</div>
<div style="position:absolute;left:424.20px;top:110.86px;font-size:11.628px;line-height:1;font-weight:normal;color:#000;white-space:nowrap;transform-origin:0 0;transform:scaleX(1.0495);-webkit-text-stroke:0.55px #000;">1,678</div>
<div style="position:absolute;left:23.20px;top:139.17px;font-size:10.901px;line-height:1;font-weight:normal;color:#000;white-space:nowrap;transform-origin:0 0;transform:scaleX(1.0240);-webkit-text-stroke:0.25px #000;">Cases initially identified as screening cases that later develop a positive clinical culture will solely be</div>
<div style="position:absolute;left:23.20px;top:153.97px;font-size:10.901px;line-height:1;font-weight:normal;color:#000;white-space:nowrap;transform-origin:0 0;transform:scaleX(1.0237);-webkit-text-stroke:0.25px #000;">reported as a clinical case to avoid double counting the same individuals.</div>
<div style="position:absolute;left:23.20px;top:168.77px;font-size:10.901px;line-height:1;font-weight:normal;color:#000;white-space:nowrap;transform-origin:0 0;transform:scaleX(1.0196);-webkit-text-stroke:0.25px #000;">208 individuals converted from a screening to clinical case.</div>
<div style="position:absolute;left:25.40px;top:193.69px;font-size:12.064px;line-height:1;font-weight:normal;color:#000;white-space:nowrap;transform-origin:0 0;transform:scaleX(1.0295);-webkit-text-stroke:0.55px #000;">Fig 1. <i>Candida auris</i> Cases in Michigan by Case Type<span style="font-size:58%;vertical-align:0.58em">a</span>, 2021 –&nbsp; December 8, 2025</div>
<div style="position:absolute;left:24.00px;top:475.22px;font-size:12.500px;line-height:1;font-weight:normal;color:#000;white-space:nowrap;transform-origin:0 0;transform:scaleX(1.0208);-webkit-text-stroke:0.55px #000;">Fig 2. Jurisdiction of Health Care Facility at <i>C. auris</i> Case Detection<span style="font-size:58%;vertical-align:0.58em">b</span></div>
<div style="position:absolute;left:182.80px;top:762.20px;font-size:11.337px;line-height:1;font-weight:normal;color:#000;white-space:nowrap;transform-origin:0 0;transform:scaleX(1.0465);-webkit-text-stroke:0.25px #000;">12 cases reported from out-of-state facilities.</div>
<div style="position:absolute;left:243.20px;top:421.10px;font-size:10.756px;line-height:1;font-weight:normal;color:#595959;white-space:nowrap;transform-origin:0 0;transform:scaleX(1.0396);-webkit-text-stroke:0.55px #595959;">Specimen Collection Date</div>
<div style="position:absolute;left:232.00px;top:443.44px;font-size:10.465px;line-height:1;font-weight:normal;color:#595959;white-space:nowrap;transform-origin:0 0;transform:scaleX(0.9836);">Clinical Case</div>
<div style="position:absolute;left:323.30px;top:443.44px;font-size:10.465px;line-height:1;font-weight:normal;color:#595959;white-space:nowrap;transform-origin:0 0;transform:scaleX(0.9961);">Screening Case</div>
<div style="position:absolute;left:358.20px;top:723.41px;font-size:10.029px;line-height:1;font-weight:bold;color:#845040;white-space:nowrap;transform-origin:0 0;transform:scaleX(0.9154);">Detroit: 1,353</div>
<div style="position:absolute;left:402.50px;top:553.55px;font-size:11.047px;line-height:1;font-weight:normal;color:#1a1a1a;white-space:nowrap;transform-origin:0 0;transform:scaleX(0.9910);">Cases</div>
<div style="position:absolute;left:211.2px;top:104.8px;width:64.9px;height:1.1px;background:#111"></div>
<div style="position:absolute;left:308.3px;top:104.8px;width:70.3px;height:1.1px;background:#111"></div>
<div style="position:absolute;left:398.2px;top:104.8px;width:85.2px;height:1.1px;background:#111"></div>
</body></html>
